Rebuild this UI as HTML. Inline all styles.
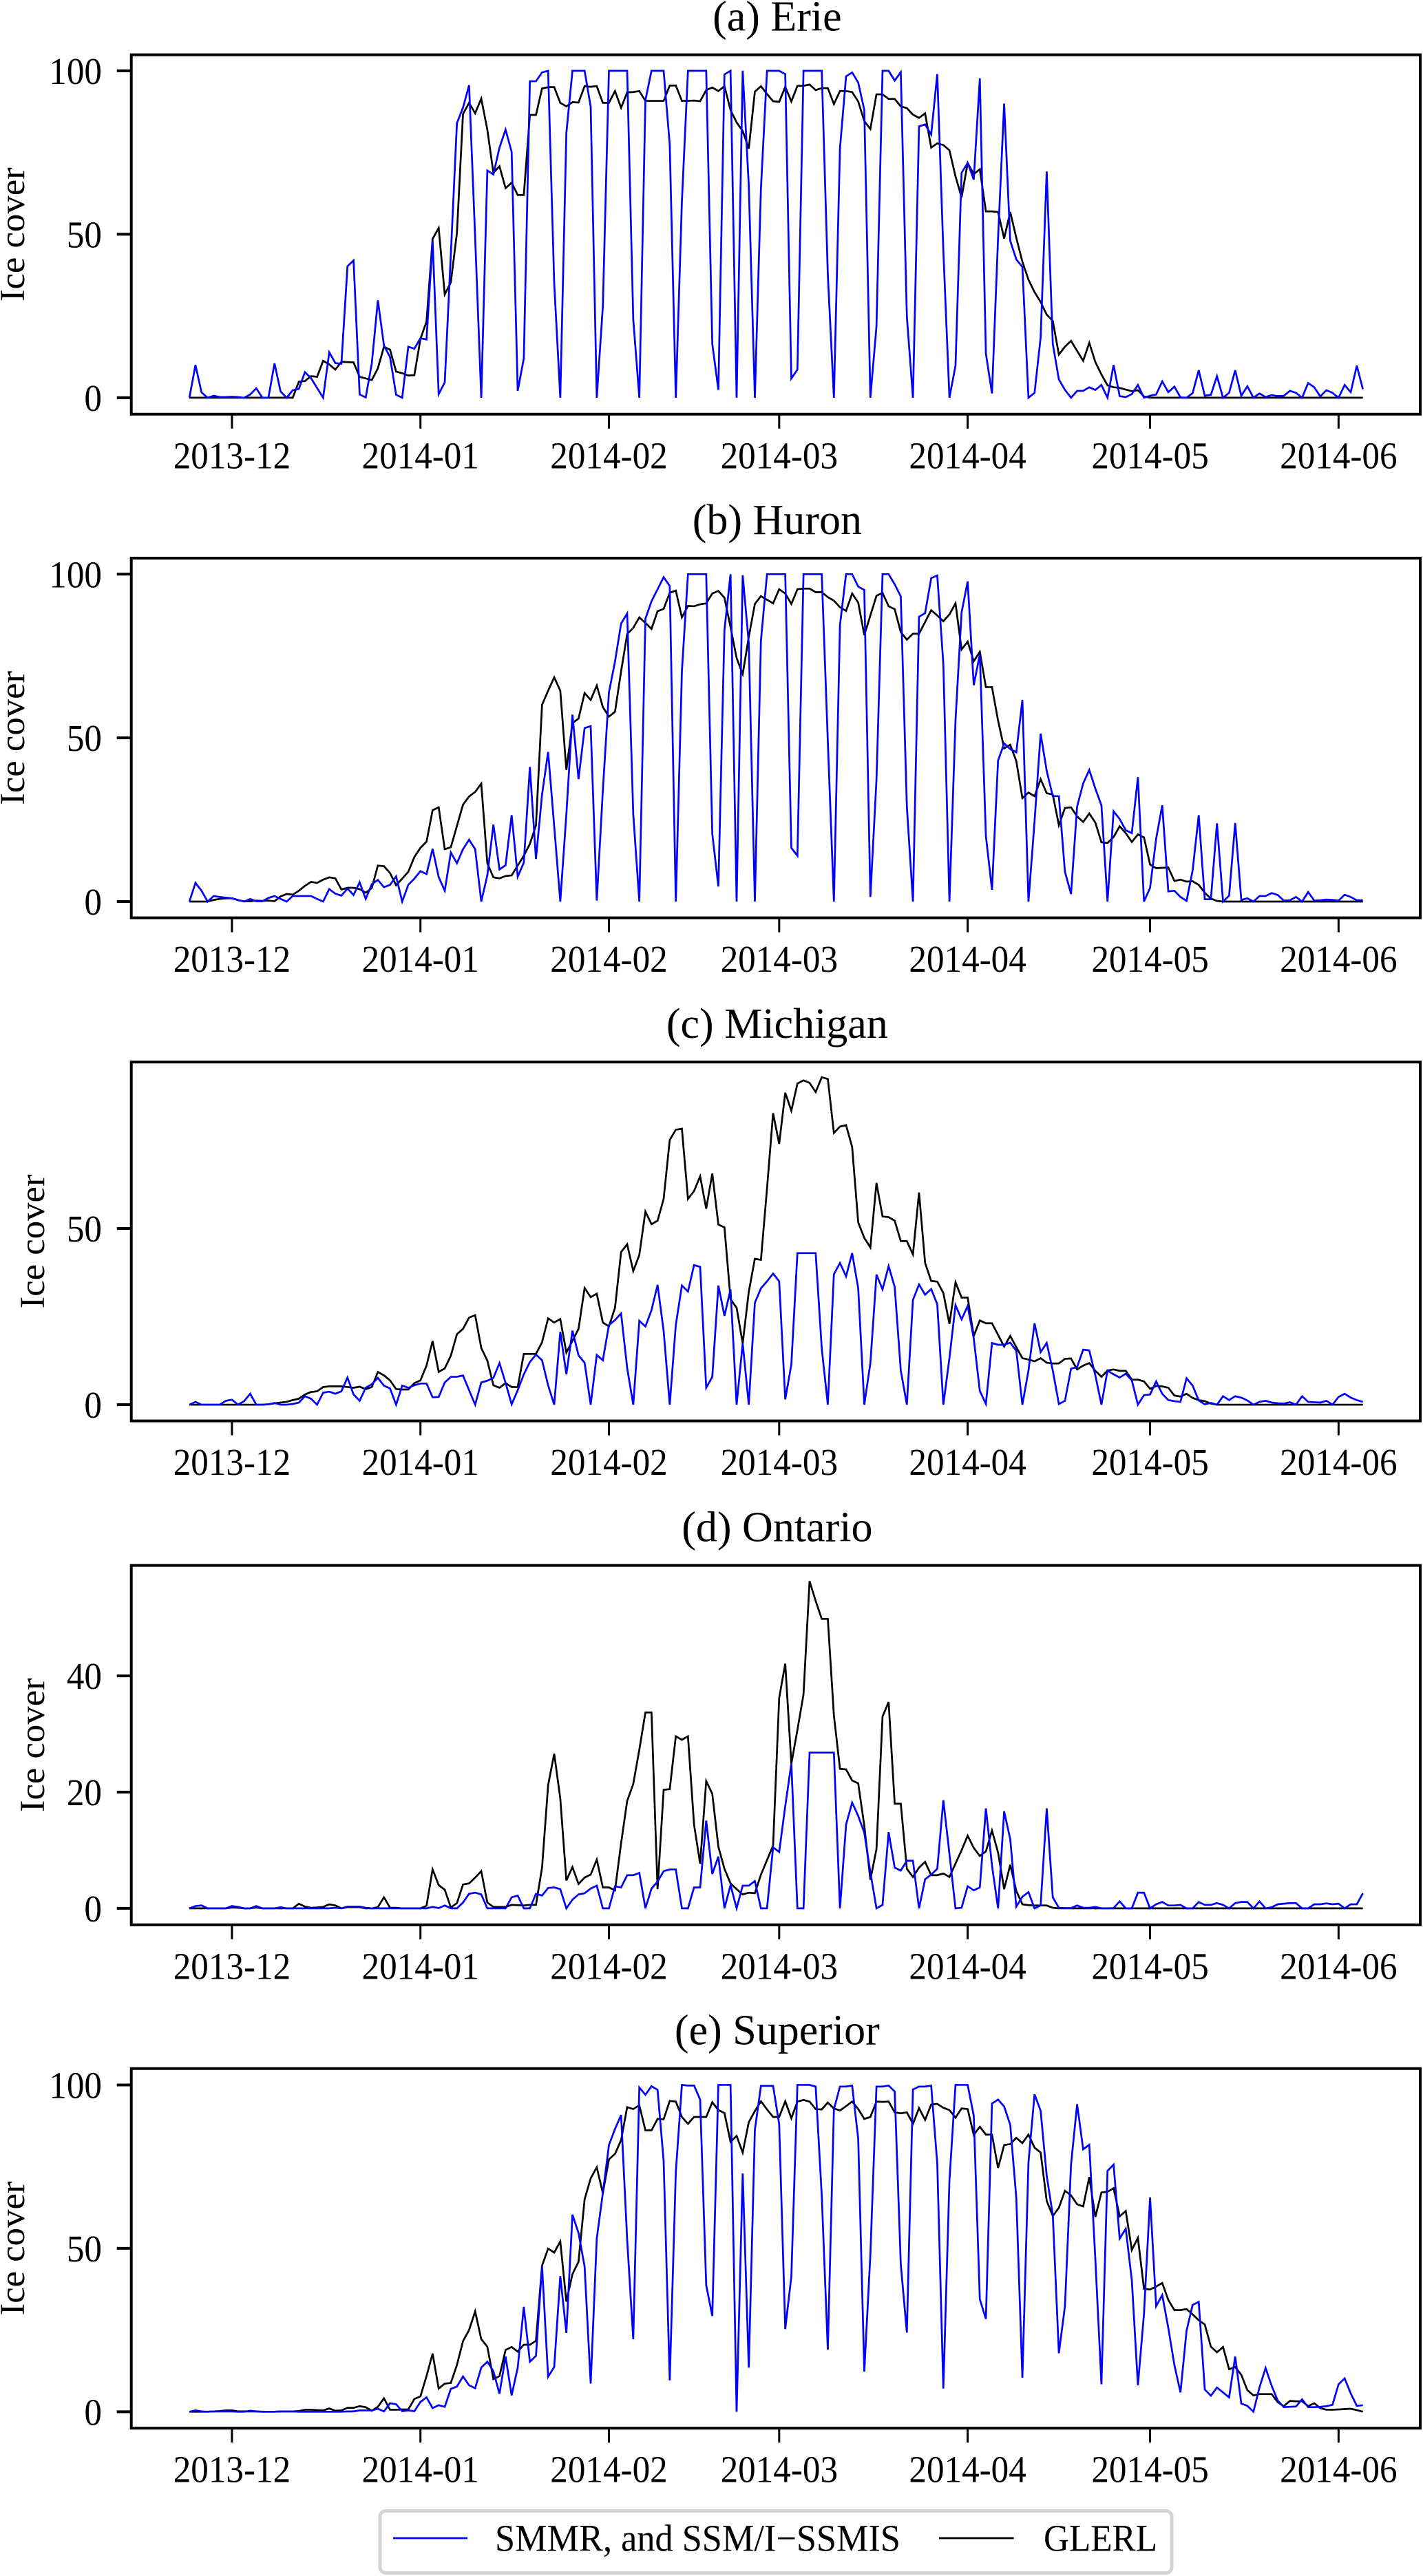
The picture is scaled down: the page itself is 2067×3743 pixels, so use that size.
<!DOCTYPE html>
<html lang="en">
<head>
<meta charset="utf-8">
<title>Great Lakes ice cover 2013-2014</title>
<style>
html,body{margin:0;padding:0;background:#fff;}
svg{display:block;}
text{font-family:"Liberation Serif","Times New Roman",serif;fill:#000;}
</style>
</head>
<body>
<svg id="chart" xmlns="http://www.w3.org/2000/svg" width="2067" height="3743" viewBox="0 0 2067 3743">
  <rect x="0" y="0" width="2067" height="3743" fill="#fff"/>
  <g id="panels"></g>
  <g>
    <rect x="552" y="3648.5" width="1150" height="90" rx="8" ry="8" fill="#fff" stroke="#d4d4d4" stroke-width="5"/>
    <line x1="571" y1="3688" x2="679" y2="3688" stroke="#0000ff" stroke-width="2.8"/>
    <text x="719" y="3706.5" font-size="55" textLength="589" lengthAdjust="spacingAndGlyphs">SMMR, and SSM/I−SSMIS</text>
    <line x1="1364" y1="3688" x2="1472.6" y2="3688" stroke="#000" stroke-width="2.8"/>
    <text x="1516" y="3706.5" font-size="55" textLength="165" lengthAdjust="spacingAndGlyphs">GLERL</text>
  </g>
</svg>
<script>
const startDate = '2013-11-24';
const monthTickLabels = ['2013-12','2014-01','2014-02','2014-03','2014-04','2014-05','2014-06'];
const yTicksLarge = [0,50,100];
const yTicksMichigan = [0,50];
const yTicksOntario = [0,20,40];

const erieSmmr = [
0,10,1.6,0,.6,.2,.2,.3,.2,0,
1,2.9,0,0,10.5,1.9,0,2.3,2.7,7.8,
6,3,0,13.9,10.6,10.4,40.2,42,1,.1,
10.5,29.8,16,12.4,.9,0,15.6,15,18.2,17.8,
48,1.1,4.7,44,84,88.7,95.6,49,0,69.5,
68.3,76.5,82,75.2,2.1,12,96.8,96.8,99.5,100,
35,0,81,100,100,100,89,0,28,100,
100,100,100,24,0,91,100,100,100,77.4,
0,60,100,100,100,100,16.5,2.4,98.9,100,
0,100,65,0,64,100,100,100,99,5.9,
8.6,100,100,100,100,37.6,0,76.3,98.3,99.5,
96.4,88,0,21.8,100,100,97,99.6,24.8,0,
83,83.6,80.5,99,45,0,9.8,68.8,71.8,66.7,
97.7,13.5,1.3,48.9,90,48,42.3,40,0,1.5,
18.4,69.2,16.5,5.6,2.4,0,2.1,2.1,3.2,2.4,
3.9,0,10,.5,.2,1.1,3.9,0,.6,1,
5,1.7,3.4,.1,0,1.4,8.4,.6,.9,6.6,
0,1.5,8.4,.6,3.5,0,1.3,.2,.8,.5,
.6,2.1,1.5,0,4.5,3.2,.4,2.3,1.5,0,
3.9,1.7,9.8,2.6];
const erieGlerl = [
0,0,0,0,0,0,0,0,0,0,
0,0,0,0,0,0,0,0,4.9,5.1,
6.6,6.4,11.3,10.2,8.6,11,10.9,10.8,6.4,5.9,
5.4,9,15.6,14.7,8,7.5,6.8,6.9,18,23.3,
48.6,51.9,31.6,35.3,50.4,86.8,90.2,87,91.5,82,
68.8,70.8,64.1,65.8,62,62,86.5,86.5,94.6,95,
95,90.2,89.1,90.4,90.3,95.3,95.1,95.3,90.2,90.2,
93.8,88.7,93.4,93.5,93.8,90.8,90.8,90.8,90.8,95.5,
95.5,90.8,90.8,90.9,90.7,94.1,94.9,93.8,95.3,88,
84.2,81.6,76.2,93.6,95.3,92.9,90.7,90.5,95.1,90.6,
95.4,95.4,95.8,94.1,94.7,94.7,89.8,93.8,93.8,93.5,
90.6,84.6,82.2,92.8,92.8,91.4,91.4,89.1,88.6,86.6,
85.6,87,76.5,77.8,77.3,75.7,67.7,61.3,71.8,68.4,
69.9,57,57,56.8,48.7,56.8,48.9,41.6,36.1,32.3,
29.3,25.4,23.5,13.2,15.6,17.4,14.3,11.3,16.8,10.9,
7.1,3.8,3.2,3,2.5,2,2.3,.4,0,0,
0,0,0,0,0,0,0,0,0,0,
0,0,0,0,0,0,0,0,0,0,
0,0,0,0,0,0,0,0,0,0,
0,0,0,0];
const huronSmmr = [
0,5.7,3.3,0,1.7,1.4,1.2,1,.5,0,
.8,.1,.1,1.1,1.7,.8,0,1.7,1.7,1.7,
1.7,.8,0,3.8,2.4,1.8,4,2,5.9,.8,
5.3,6.6,4.4,5.1,7.7,0,5.1,7,9.3,8.4,
16.1,7.5,3.3,15,11.7,16,18.9,16,0,8,
23.5,9.8,11.1,26.4,7.6,11.9,41.1,13,32.7,45.7,
23,0,26.7,57.1,37.4,53,53.6,.3,34,63.9,
73.3,84.9,88,26.7,0,86.4,91.7,95.4,99.1,96.4,
0,70.3,100,100,100,100,20.7,4.6,83,100,
0,99.7,79,0,79.7,100,100,100,100,16.4,
14,100,100,100,100,49,0,84.5,100,100,
96.2,95.2,1.4,37.2,100,100,96.9,93.2,29,0,
87,88.1,98.8,99.6,72.5,0,55.3,88.3,97.8,66.1,
75.5,20,3.6,43.1,48.3,46.6,45.6,61.6,0,24.5,
51.3,39.9,32.2,32.2,9.1,2.3,29,36.1,40.2,34.5,
29.4,0,27.6,25.2,21.8,20.9,38,0,4.2,19.2,
29.4,3.1,3.3,1.4,.2,9.5,26.4,.7,.7,23.9,
0,1.8,24,.5,1,0,1.7,1.7,2.6,2,
.3,.4,1.4,0,2.9,.3,.4,.6,.5,.3,
2.1,1.4,.4,.4];
const huronGlerl = [
0,0,0,0,.5,.8,1,1,.4,.1,
.1,.3,.2,.3,.1,1.6,2.3,2.1,3.3,4.8,
6,5.7,6.7,7.4,7.1,3.7,4.2,4.2,3.8,2.7,
4.1,11,10.8,8.7,5,7,9.1,13.6,16.4,18.3,
27.9,28.8,16,16.6,23.1,29.6,32.1,33.5,36,11.7,
7.4,7.1,7.8,8,11,14,17.6,23.3,60.1,64.4,
68.5,64.4,40.2,54.5,55.9,63.7,61.6,66,59.4,56.5,
58,70.3,81.7,83.6,86.8,85.1,83.3,88.7,89.4,94.3,
95,86.8,90.3,90.2,90.8,91.1,94.1,94.9,92.8,83.8,
74.4,69.5,80.8,90.9,93.3,92.2,91.1,95.4,94.1,90.9,
95.4,95.6,95.6,94.5,94.5,93,91.9,89.9,88.8,94.1,
91.3,81.4,87.4,93.4,94.3,90.2,89.3,82.3,80,81.8,
81.8,85.4,89,87.4,85.6,87.7,91.1,77,79.4,73.4,
76.3,65.5,65.5,55.3,46.8,47.9,42.9,31.6,33.3,32.2,
37.4,33.1,32.7,23.3,28.6,28.8,26,24.3,26.9,24.1,
18.1,17.9,19.7,23,20.9,18.2,20.5,19.6,11.3,10.2,
10.3,10.4,6.3,6.7,6.1,6.2,5.1,2.7,.9,.2,
0,0,0,0,0,0,0,0,0,0,
0,0,0,0,0,0,0,0,0,0,
0,0,0,0];
const michiganSmmr = [
0,.8,0,0,0,0,1.1,1.4,0,1,
3.1,0,0,.1,.5,0,0,.2,.6,2.4,
1.7,0,3.4,3.7,3.1,3.8,7.7,2.9,1.1,4.8,
5.8,7.6,5.4,4.6,0,5.4,4.8,5.5,6,6,
2.1,2.2,6.3,7.9,7.9,8.3,4.1,0,6.3,6.8,
7.6,11.8,6.2,.1,4.1,8.6,12.1,14.2,12.6,5.5,
0,20.7,8.6,21,14,11.9,0,14.1,12.6,22.6,
24,25.9,10.4,0,23.8,22.2,26.8,34,20.9,0,
22.6,33.8,32.1,39.6,39.1,4.8,7.9,33.8,25.2,32.7,
0,17.4,0,28.9,33,35,37.2,35,1.5,11.4,
43,43,43,43,16,0,37,40.2,36.4,43,
33,0,11.8,36.9,32.7,39.3,33.4,9.7,0,29.7,
34.1,31.2,32.8,28.5,0,13.2,28.2,24.2,28,18.8,
3.9,.2,17.5,17,17,17.6,15.3,0,9.7,23.1,
14.9,17.5,9.7,.2,1.1,10.2,10.7,15.6,15.4,8.3,
0,9.7,8.6,7.7,8.8,6.9,0,2.7,2.9,6.6,
3.1,1.3,1,.8,7.5,5.4,1.2,.1,.5,0,
2.4,1.3,2.4,2,1.2,0,.8,1.1,.6,.4,
.3,.7,0,2.4,.8,.7,.6,1.1,0,2.2,
3.1,2,1.3,.8];
const michiganGlerl = [
0,0,0,0,0,0,0,0,0,0,
0,0,0,.1,.4,.6,.8,1.3,1.7,2.9,
3.6,3.8,5,5.2,5.2,5.2,5,4.8,5.1,4.4,
5,9.3,8.3,6.9,4.4,4.3,4.3,6.1,6.9,11.1,
18.1,9.3,10.3,13.9,20,21.5,24.7,25.4,16.1,12.5,
5.5,4.8,6.1,5,5,14.4,14.4,14.4,17.7,24.5,
23.3,24.3,14.8,18.1,21.5,33.1,30.5,31.5,23.3,22.2,
27.5,43.3,45.5,37.9,42.5,54.8,51.2,52.2,58.4,75.1,
78,78.3,58.4,60.6,64.8,55.6,65.6,51.1,50.3,29.9,
27.5,17.4,32,41.4,41.1,61.3,82.7,74,88.5,83.4,
91.1,92,91.3,88.7,92.9,92.4,77.1,78.9,79.3,73.1,
51.7,47.3,44.6,62.9,53.4,53.2,52.2,46.4,46.4,42.6,
60.2,40.2,35.1,34.9,31.7,22.9,34.7,30.4,30.4,19.5,
23.9,23.1,23.1,19.8,16.5,19.5,16.3,13.2,12.8,12.3,
13.2,11.9,11.7,11.7,13,13.1,10,11.1,11.8,9.6,
7.9,9.7,10,9.6,9.6,7.1,7.1,6.6,4.5,5.3,
5.2,4.8,2.6,2.3,3.1,1.9,1.3,1,.3,0,
0,0,0,0,0,0,0,0,0,0,
0,0,0,0,0,0,0,0,0,0,
0,0,0,0];
const ontarioSmmr = [
0,.4,.5,0,0,0,0,.4,.25,0,
0,.4,0,0,0,.2,0,0,0,0,
0,0,0,0,.1,0,.3,.3,.3,.1,
0,0,0,0,0,0,0,0,0,0,
.25,.05,.5,0,0,1,2.5,2.7,2.4,0,
0,0,0,1.9,2.2,0,0,2.5,2.2,3.5,
3.6,3.3,0,1.5,2.4,2.6,3.4,3.9,0,0,
3.8,3.6,5.7,5.7,6.1,0,3.4,4.6,6.4,6.7,
6.7,0,0,3.6,3.6,15.1,5.9,8.9,0,4,
0,3.9,3.9,4.7,0,0,10.5,9.7,17.6,24.9,
0,0,26.8,26.8,26.8,26.8,26.8,0,14.4,18.2,
15.9,13,6.2,0,.6,13.1,7,6.5,8.2,8.2,
0,5,5.8,6.8,18.6,9.4,0,.1,3.8,3.1,
3.6,17.2,7.4,0,16.7,11.9,.3,2,2.8,0,
.5,17.2,1.9,.1,.05,.05,.5,.1,.1,.25,
0,0,.05,1.2,0,0,2.7,2.7,0,.7,
1.1,.5,.5,.6,0,0,1.1,.6,.6,.9,
.6,0,.9,1.1,1.1,0,1.2,0,.2,.7,
.8,.9,.9,0,0,.7,.7,.85,.7,.8,
0,.7,.7,2.6];
const ontarioGlerl = [
0,0,0,0,0,0,0,.15,.1,0,
0,.15,0,0,0,0,0,0,.8,.3,
.1,.15,.25,.7,.5,0,.2,.2,.2,0,
0,.2,1.9,.1,.1,0,0,0,0,.45,
6.7,4,3.2,.15,.9,4.1,4.3,5.3,6.4,1,
.25,.25,.25,.6,.55,.5,.6,.6,7,21.2,
26.6,18.9,4.8,7.1,4.2,5.3,5.8,8.4,3.6,3.6,
3.1,11.2,18.5,21.4,27.3,33.7,33.7,3.3,20.4,20.5,
29.6,29,29.6,14.4,7.7,21.9,19.7,10.6,6.8,4.3,
3.3,2.4,2.7,2.6,5.8,8.3,10.8,36.2,42.1,24.9,
30.7,36.8,56.3,52.9,49.8,49.8,33.2,24,23.9,22,
21.5,14.2,4.9,10.2,33,35.5,18,18,6.8,5.4,
7,8,5.7,5.7,6,5.4,7.7,10,12.5,10.4,
9,9.8,13.4,9.6,3.3,7.5,3,.7,.55,.5,
.5,.5,.1,0,0,0,0,0,0,0,
0,0,0,0,0,0,0,0,0,0,
0,0,0,0,0,0,0,0,0,0,
0,0,0,0,0,0,0,0,0,0,
0,0,0,0,0,0,0,0,0,0,
0,0,0,0];
const superiorSmmr = [
0,.4,.1,0,.1,.1,.1,.1,0,0,
.3,.1,0,0,0,.1,.1,.1,0,0,
0,0,0,0,0,0,.1,.1,.4,.4,
.4,.9,.1,2.6,2.3,.15,.4,.15,3,4.4,
1.1,2,1.5,7,7.7,10.8,8.1,7.2,13.5,15.3,
12.4,5.5,16.9,5,13.5,32.1,15.3,17.1,44.6,10.7,
13.7,41.5,24.1,60.3,54.7,44.4,8.6,53,66.9,81.6,
86.5,90.8,52.6,22.2,99.2,97,99.6,98.5,76.7,9.6,
73.3,100,99.8,99.8,95.5,38.7,29.3,100,100,100,
0,72.9,13.5,86.2,99.7,99.7,99.7,88,25.3,41.4,
100,100,100,99.5,66.2,19,92.5,99.5,99.5,99.8,
83.5,12.3,48.1,99.5,99.5,99.8,98,45.1,24.2,98.6,
99.5,99.5,99.8,75.9,7.1,70.7,100,100,100,90.6,
34.4,28.4,94.3,95.5,93.4,87.8,65.4,10.4,76.3,97.1,
92.1,72.2,60.2,17.9,32.3,75.6,94.1,80.3,81.7,46.6,
8.4,73.7,75.6,53,56,40.2,8.1,30,65.6,32.3,
35.7,25.6,14.3,5.9,24.8,32.7,33.6,6.8,4.9,7.4,
5.9,4.4,16.9,2.5,1.8,0,7.5,13.4,7.9,3.4,
1.4,1.5,1.6,3.8,1.4,1.4,1.5,1.7,2.1,8.4,
10.2,5.6,1.8,2];
const superiorGlerl = [
0,0,0,0,.1,.2,.4,.4,.1,.1,
.1,.1,0,0,0,.1,.1,.1,.2,.6,
.6,.5,.4,1,.3,.4,1.2,1.2,1.7,1.4,
.3,1.5,4.1,.6,.6,.7,.7,3.9,4.7,10.9,
17.8,7.1,8.6,8.8,14.3,21.6,25,30.7,22.2,19.9,
10,10.9,18.9,19.8,18.4,20.5,20.5,21.7,44.7,49.9,
48.7,52.1,33.7,42.1,45.9,65,71.4,74.8,66.9,77.2,
78.9,83.1,93.2,92.6,93.8,86.1,86.1,89.6,89.5,95.1,
94.9,90.2,88.1,90.2,90.2,90.2,94.7,92.3,91.4,82.6,
84.4,79.3,88.6,92,95,92.5,90.2,90.2,95,89.8,
94.9,95.4,94.9,92.6,92.5,94.6,92.8,92.2,93.5,94.9,
92.6,89.6,90.2,94.9,94.8,94.9,91.6,91.3,91.6,88.1,
92.9,89.3,94,94.2,93,92.3,90,92.8,92.6,84.7,
87.2,84.8,84.8,74.6,81.6,81.9,83.8,82.2,84.8,80.8,
79.3,64.5,59.9,62.4,67.6,66.2,63.5,62.8,71.8,59.6,
67.1,67.3,68.4,59.8,61.4,49.5,53.2,37.6,37.4,38.3,
39.4,34.2,31.1,31.1,31.4,29.8,28,26.7,19.9,18.2,
19.8,13,13.7,11.3,6.6,5,5.4,5.4,5.4,2.9,
1.7,3.3,3.2,3.2,1.7,2.6,1.1,.6,.6,.7,
.8,.9,.5,0];

const SVG_NS = 'http://www.w3.org/2000/svg';
const LEFT = 190.7;
const RIGHT = 2063;
const DAY0_X = 275.1;
const DAY_W = 8.832;
const TEXT_SQUEEZE = 0.93;
const FONT = 55;
const TITLE_FONT = 62;

function xScale(day) {
  return DAY0_X + DAY_W * day;
}
function dayOf(dateText) {
  const parts = dateText.split('-').map(Number);
  const d = Date.UTC(parts[0], parts[1] - 1, parts[2] || 1);
  return Math.round((d - Date.parse(startDate + 'T00:00:00Z')) / 86400000);
}
function makeYScale(p) {
  return function (v) {
    return p.bottom - (v - p.yMin) * (p.bottom - p.top) / (p.yMax - p.yMin);
  };
}
function create(tag, attrs, parent) {
  const el = document.createElementNS(SVG_NS, tag);
  Object.keys(attrs).forEach(function (k) { el.setAttribute(k, attrs[k]); });
  parent.appendChild(el);
  return el;
}
function seriesPath(values, yScale) {
  return values.map(function (v, i) {
    return (i ? 'L' : 'M') + xScale(i).toFixed(2) + ' ' + yScale(v).toFixed(2);
  }).join('');
}

const panelDefs = [
  {key:'erie', title:'(a) Erie', top:79.6, bottom:601.8, yMin:-5.03, yMax:104.9, ticks:yTicksLarge, labelX:35, smmr:erieSmmr, glerl:erieGlerl},
  {key:'huron', title:'(b) Huron', top:811, bottom:1333.6, yMin:-4.96, yMax:104.9, ticks:yTicksLarge, labelX:35, smmr:huronSmmr, glerl:huronGlerl},
  {key:'michigan', title:'(c) Michigan', top:1543.2, bottom:2064.6, yMin:-4.6, yMax:97.2, ticks:yTicksMichigan, labelX:64, smmr:michiganSmmr, glerl:michiganGlerl},
  {key:'ontario', title:'(d) Ontario', top:2274.6, bottom:2796.8, yMin:-2.83, yMax:59, ticks:yTicksOntario, labelX:64, smmr:ontarioSmmr, glerl:ontarioGlerl},
  {key:'superior', title:'(e) Superior', top:3005.7, bottom:3528.2, yMin:-5.03, yMax:105, ticks:yTicksLarge, labelX:35, smmr:superiorSmmr, glerl:superiorGlerl}
];

const root = document.getElementById('panels');

panelDefs.forEach(function (p) {
  const yScale = makeYScale(p);
  const g = create('g', {}, root);
  
  

  const title = create('text', {
    'text-anchor': 'middle',
    'font-size': TITLE_FONT,
    transform: 'translate(' + ((LEFT + RIGHT) / 2 + 2) + ' ' + (p.top - 35) + ') scale(1 1)'
  }, g);
  
  
  title.textContent = p.title;

  const yLabel = create('text', {
    'text-anchor': 'middle',
    'font-size': FONT,
    transform: 'translate(' + p.labelX + ' ' + ((p.top + p.bottom) / 2) + ') rotate(-90) scale(0.96 ' + TEXT_SQUEEZE + ')'
  }, g);
  
  
  yLabel.textContent = 'Ice cover';

  p.ticks.forEach(function (t) {
    const y = yScale(t);
    const tick = create('line', {x1: LEFT - 21, x2: LEFT, y1: y, y2: y, stroke: '#000', 'stroke-width': 4}, g);
    
    
    const label = create('text', {
      'text-anchor': 'end',
      'font-size': FONT,
      transform: 'translate(148 ' + (y + 19) + ') scale(' + TEXT_SQUEEZE + ' 1)'
    }, g);
    
    
    label.textContent = String(t);
  });

  monthTickLabels.forEach(function (m) {
    const x = xScale(dayOf(m));
    const tick = create('line', {x1: x, x2: x, y1: p.bottom, y2: p.bottom + 21, stroke: '#000', 'stroke-width': 3}, g);
    
    
    const label = create('text', {
      'text-anchor': 'middle',
      'font-size': FONT,
      transform: 'translate(' + x + ' ' + (p.bottom + 78.5) + ') scale(' + TEXT_SQUEEZE + ' 1)'
    }, g);
    
    
    label.textContent = m;
  });

  const glerlLine = create('path', {d: seriesPath(p.glerl, yScale), fill: 'none', stroke: '#000', 'stroke-width': 2.7, 'stroke-linejoin': 'miter'}, g);
  
  

  const smmrLine = create('path', {d: seriesPath(p.smmr, yScale), fill: 'none', stroke: '#0000ff', 'stroke-width': 2.7, 'stroke-linejoin': 'miter'}, g);
  
  

  const frame = create('rect', {x: LEFT, y: p.top, width: RIGHT - LEFT, height: p.bottom - p.top, fill: 'none', stroke: '#000', 'stroke-width': 4}, g);
  
  
});
</script>
</body>
</html>
